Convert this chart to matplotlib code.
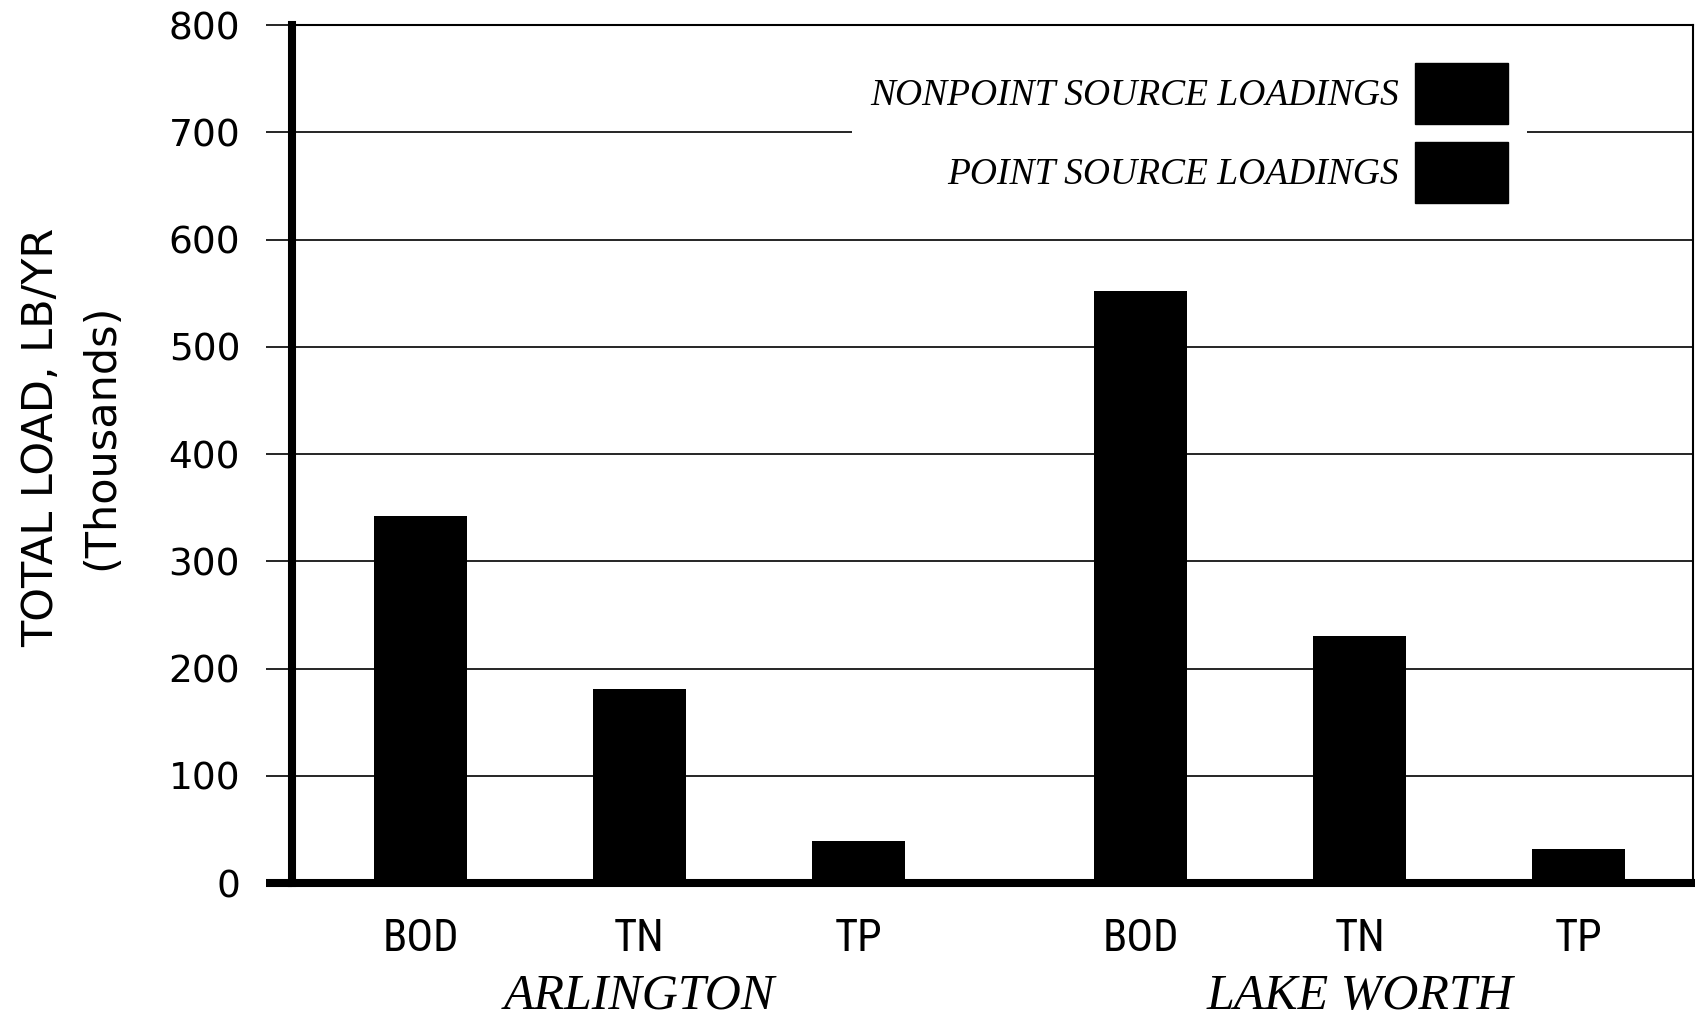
import matplotlib
matplotlib.use("Agg")
import matplotlib.pyplot as plt
from matplotlib import font_manager
from matplotlib.patches import Patch
from matplotlib.transforms import blended_transform_factory
import numpy as np

# ---- data ----
groups = ["ARLINGTON", "LAKE WORTH"]
parameters = ["BOD", "TN", "TP"]
arlington_load = [342, 181, 39]      # thousands lb/yr
lake_worth_load = [552, 230, 32]
legend_labels = ["NONPOINT SOURCE LOADINGS", "POINT SOURCE LOADINGS"]
y_ticks = [0, 100, 200, 300, 400, 500, 600, 700, 800]


def pick(fams):
    for f in fams:
        try:
            font_manager.findfont(font_manager.FontProperties(family=f), fallback_to_default=False)
            return f
        except Exception:
            pass
    return "DejaVu Sans"

narrow = pick(["Liberation Sans Narrow", "Roboto Condensed", "DejaVu Sans"])
serif = pick(["Liberation Serif", "DejaVu Serif"])

fig = plt.figure(figsize=(16.95, 10.21), dpi=100)
ax = fig.add_axes([0.172, 0.135, 0.8268, 0.8405])

group_gap = 1.29
x_arl = np.arange(len(parameters), dtype=float)
x_lw = np.arange(len(parameters), dtype=float) + len(parameters) - 1 + group_gap
xs = np.concatenate([x_arl, x_lw])
vals = arlington_load + lake_worth_load

ax.bar(xs, vals, width=0.425, color="black", zorder=3)

ax.set_xlim(-0.59, x_lw[-1] + 0.523)
ax.set_ylim(0, 800)
ax.set_yticks(y_ticks)
ax.set_yticklabels([str(v) for v in y_ticks], fontsize=27, family="DejaVu Sans")
ax.set_xticks(xs)
ax.set_xticklabels(parameters * 2, fontsize=32, family=narrow)
ax.tick_params(axis="x", length=0, pad=25)
ax.tick_params(axis="y", length=19, width=1.2, pad=18, direction="out")
ax.yaxis.get_major_ticks()[0].tick1line.set_markeredgewidth(5.8)
ax.grid(axis="y", color="black", linewidth=1.2, zorder=0)

for s in ["left", "bottom"]:
    ax.spines[s].set_linewidth(5.8)
for s in ["top", "right"]:
    ax.spines[s].set_linewidth(1.5)
    ax.spines[s].set_zorder(6)

ax.set_ylabel("TOTAL LOAD, LB/YR\n(Thousands)", fontsize=31, family="DejaVu Sans",
              linespacing=1.55, va="center", ha="center")
ax.yaxis.set_label_coords(-0.157, 0.52)

trans = blended_transform_factory(ax.transData, fig.transFigure)
for name, gx in zip(groups, [x_arl, x_lw]):
    ax.text(gx.mean(), 0.024, name, transform=trans, ha="center", va="center",
            fontsize=36, family=serif, style="italic")

handles = [Patch(facecolor="black", edgecolor="black"),
           Patch(facecolor="black", edgecolor="black")]
leg = ax.legend(handles, legend_labels, loc="upper right",
                bbox_to_anchor=(0.8815, 0.978), borderaxespad=0.0,
                markerfirst=False, frameon=True, fancybox=False,
                facecolor="white", edgecolor="none", framealpha=1.0,
                prop=font_manager.FontProperties(family=serif, style="italic", size=27),
                handlelength=2.48, handleheight=2.13, labelspacing=0.48,
                handletextpad=0.43, borderpad=0.5)
leg.get_frame().set_linewidth(0)
leg.set_zorder(5)

fig.savefig("out.png", dpi=100)
